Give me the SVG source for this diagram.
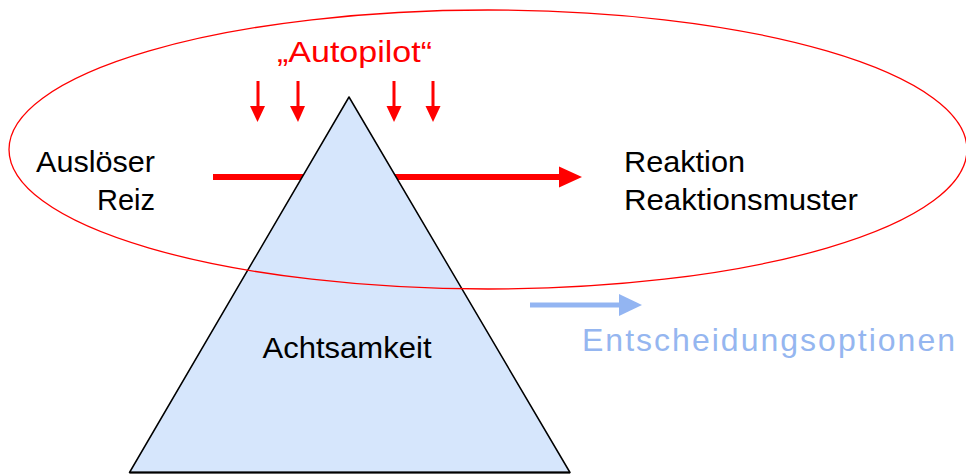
<svg xmlns="http://www.w3.org/2000/svg" width="966" height="474" viewBox="0 0 966 474">
<style>
.lbl{font-family:"Liberation Sans",Arial,sans-serif;font-size:30px;fill:#000}
</style>
<rect width="966" height="474" fill="#fff"/>
<g id="connectors">
<g id="reiz-reaktion">
<rect x="213" y="174" width="348" height="6" fill="#FF0000"/>
<polygon points="559,166.5 582,177 559,187.5" fill="#FF0000"/>
</g>
<g id="autopilot-arrows" fill="#FF0000">
<rect x="256.5" y="81" width="3" height="26"/><polygon points="250,106 265,106 257.5,122"/>
<rect x="296.5" y="81" width="3" height="26"/><polygon points="290,106 305,106 298,122"/>
<rect x="392.5" y="81" width="3" height="26"/><polygon points="386.5,106 401.5,106 394,122"/>
<rect x="431.5" y="81" width="3" height="26"/><polygon points="425.5,106 440.5,106 433,122"/>
</g>
<g id="options-arrow">
<rect x="530" y="302.5" width="91" height="5" fill="#93B5F2"/>
<polygon points="619,294 642,305 619,316" fill="#93B5F2"/>
</g>
</g>
<g id="achtsamkeit">
<polygon points="349,97 570,472.5 129.5,472.5" fill="#D6E6FC" stroke="#000" stroke-width="1.5" stroke-linejoin="round"/>
<line x1="129.5" y1="472.5" x2="570" y2="472.5" stroke="#000" stroke-width="2"/>
<text class="lbl" x="347" y="358" text-anchor="middle" textLength="169" lengthAdjust="spacingAndGlyphs">Achtsamkeit</text>
</g>
<g id="autopilot">
<ellipse cx="488" cy="149.5" rx="479" ry="139.5" fill="none" stroke="#FF0000" stroke-width="1.3"/>
<text x="277" y="62" font-family="Liberation Sans,Arial,sans-serif" font-size="29" fill="#FF0000" textLength="155" lengthAdjust="spacingAndGlyphs">„Autopilot“</text>
</g>
<g id="ausloeser">
<text class="lbl" x="155" y="172" text-anchor="end" textLength="119" lengthAdjust="spacingAndGlyphs">Auslöser</text>
<text class="lbl" x="155" y="210" text-anchor="end" textLength="58" lengthAdjust="spacingAndGlyphs">Reiz</text>
</g>
<g id="reaktion">
<text class="lbl" x="624" y="172" textLength="121" lengthAdjust="spacingAndGlyphs">Reaktion</text>
<text class="lbl" x="624" y="210" textLength="234" lengthAdjust="spacingAndGlyphs">Reaktionsmuster</text>
</g>
<g id="entscheidungsoptionen">
<text x="582" y="351" font-family="Liberation Sans,Arial,sans-serif" font-size="32" fill="#95B6F0" textLength="373" lengthAdjust="spacing">Entscheidungsoptionen</text>
</g>
</svg>
